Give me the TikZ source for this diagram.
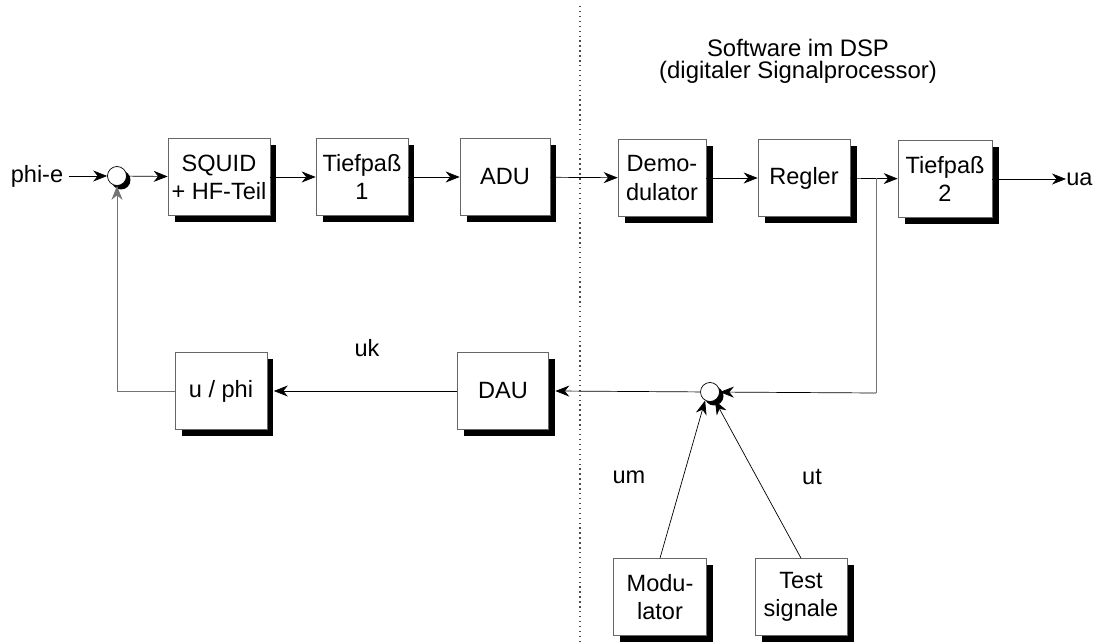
\documentclass[tikz,border=0pt]{standalone}
\usepackage{fontspec}
\setmainfont{Liberation Sans}
\usetikzlibrary{arrows,arrows.meta,shadows}

\tikzset{
  block/.style={draw=black!60, thin, fill=white, align=center, inner sep=1pt,
    minimum height=1.54cm, font=\fontsize{13.4}{16}\selectfont,
    drop shadow={shadow xshift=0.13cm, shadow yshift=-0.13cm, fill=black, opacity=1}},
  summer/.style={circle, draw, fill=white, minimum size=0.38cm, inner sep=0pt,
    drop shadow={shadow xshift=0.08cm, shadow yshift=-0.08cm, fill=black, opacity=1}},
  lbl/.style={font=\fontsize{13.4}{16}\selectfont, align=center},
  sig/.style={-{Stealth[length=0.28cm, width=0.22cm, inset=0.09cm]}, thin},
  back/.style={thin, black!55}
}

\begin{document}
\begin{tikzpicture}[x=0.02cm,y=-0.02cm]
\useasboundingbox (0,0) rectangle (1105,644);

\draw [dotted, thick, black!70] (580,6) -- (580,644);
\node [lbl, font=\fontsize{13.6}{12.5}\selectfont] (dsp) at (798,61) {Software im DSP\\(digitaler Signalprocessor)};

\node [lbl] (phie) at (37,176) {phi-e};
\node [summer] (sum1) at (117,176) {};
\node [block, minimum width=2.04cm] (squid) at (219,177) {SQUID\\+ HF-Teil};
\node [block, minimum width=1.84cm] (tp1) at (362,177) {Tiefpaß\\1};
\node [block, minimum width=1.8cm] (adu) at (505,177) {ADU};
\node [block, minimum width=1.76cm] (demod) at (662,178) {Demo-\\dulator};
\node [block, minimum width=1.84cm] (regler) at (804,178) {Regler};
\node [block, minimum width=1.88cm] (tp2) at (945,179) {Tiefpaß\\2};
\node [lbl, anchor=west, inner sep=0pt] (ua) at (1066,179) {ua};

\node [block, minimum width=1.84cm] (uphi) at (221,391) {u / phi};
\node [block, minimum width=1.82cm] (dau) at (503,391) {DAU};
\node [summer] (sum2) at (710,392) {};
\node [lbl] (uk) at (367,348) {uk};
\node [lbl] (um) at (629,477) {um};
\node [lbl] (ut) at (812,477) {ut};
\node [block, minimum width=1.86cm] (mod) at (660,597) {Modu-\\lator};
\node [block, minimum width=1.84cm] (test) at (801,597) {Test\\signale};

\coordinate (branch) at (876,178);
\coordinate (down) at (876,393);
\coordinate (corner) at (117,391);

\draw [sig] (phie) -- (sum1);
\draw [sig] (sum1) -- (squid);
\draw [sig] (squid) -- (tp1);
\draw [sig] (tp1) -- (adu);
\draw [sig] (adu) -- (demod);
\draw [sig] (demod) -- (regler);
\draw [sig] (regler) -- (tp2);
\draw [sig] (tp2) -- (ua);
\draw [back] (branch) -- (down);
\draw [sig] (down) -- (sum2);
\draw [sig] (sum2) -- ([xshift=0.13cm]dau.east);
\draw [sig] (dau) -- ([xshift=0.13cm]uphi.east);
\draw [back] (uphi) -- (corner);
\draw [back, -{Stealth[length=0.28cm, width=0.22cm, inset=0.09cm]}] (corner) -- (sum1);
\draw [sig] (mod.north) -- (sum2.240);
\draw [sig] (test.north) -- (sum2.300);
\end{tikzpicture}
\end{document}
